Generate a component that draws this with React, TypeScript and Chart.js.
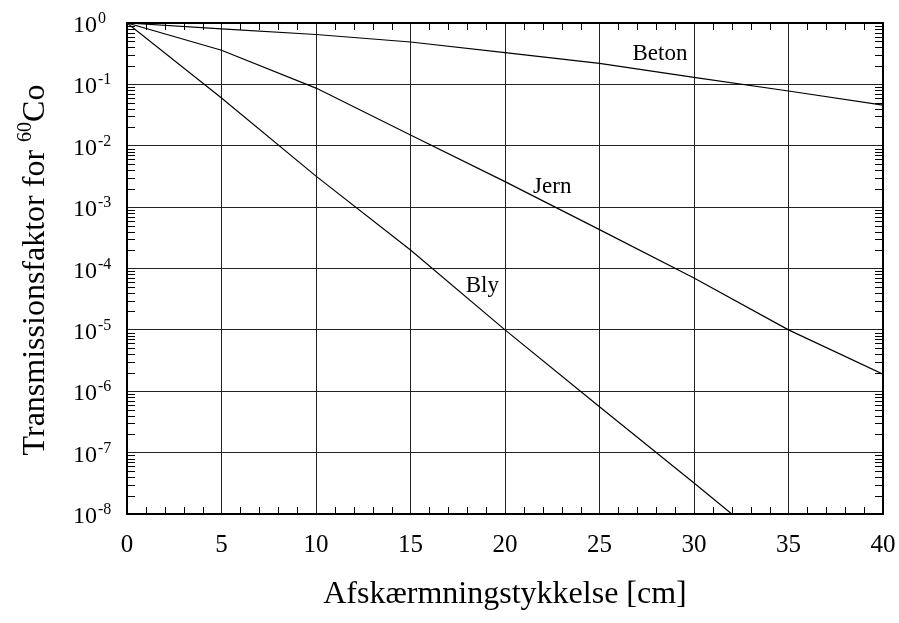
import React, { useEffect, useRef } from 'react';
import { Chart, registerables } from 'chart.js';

Chart.register(...registerables);

// ---- data ----
const thickness = [0, 5, 10, 15, 20, 25, 30, 35, 40];
const beton = [1, 0.8, 0.65, 0.49, 0.33, 0.22, 0.13, 0.078, 0.046];
const jern = [1, 0.36, 0.087, 0.015, 0.0026, 4.3e-4, 7.0e-5, 1.0e-5, 1.9e-6];
const blyThickness = [0, 5, 10, 15, 20, 25, 30, 32];
const bly = [1, 0.06, 3.2e-3, 2.0e-4, 1.0e-5, 5.6e-7, 3.2e-8, 1.0e-8];

const xTickValues = [0, 5, 10, 15, 20, 25, 30, 35, 40];
const yExponents = [0, -1, -2, -3, -4, -5, -6, -7, -8];

const seriesNames = ['Beton', 'Jern', 'Bly'];
// label anchors in data coordinates [x, y]
const labelAnchors: [number, number][] = [
  [28.2, 0.31],
  [22.5, 2.1e-3],
  [18.8, 5.2e-5],
];

const xTitle = 'Afskærmningstykkelse [cm]';
const yTitleMain = 'Transmissionsfaktor for ';
const yTitleSup = '60';
const yTitleEnd = 'Co';

const SERIF = '"Liberation Serif", "Times New Roman", serif';

const decorPlugin = {
  id: 'decor',
  afterDraw(chart: any) {
    const { ctx, chartArea } = chart;
    const xs = chart.scales.x;
    const ys = chart.scales.y;
    const { left, right, top, bottom } = chartArea;
    ctx.save();
    ctx.strokeStyle = '#000';
    ctx.fillStyle = '#000';

    // minor ticks x
    ctx.lineWidth = 1;
    ctx.beginPath();
    for (let v = 1; v < 40; v++) {
      if (v % 5 === 0) continue;
      const px = Math.round(xs.getPixelForValue(v)) + 0.5;
      ctx.moveTo(px, bottom);
      ctx.lineTo(px, bottom - 7);
      ctx.moveTo(px, top);
      ctx.lineTo(px, top + 7);
    }
    // minor ticks y
    for (let k = -8; k < 0; k++) {
      for (let m = 2; m <= 9; m++) {
        const v = m * Math.pow(10, k);
        const py = Math.round(ys.getPixelForValue(v)) + 0.5;
        ctx.moveTo(left, py);
        ctx.lineTo(left + 8, py);
        ctx.moveTo(right, py);
        ctx.lineTo(right - 8, py);
      }
    }
    ctx.stroke();

    // frame
    ctx.lineWidth = 2;
    ctx.strokeRect(left, top, right - left, bottom - top);

    // x tick labels
    ctx.font = '25px ' + SERIF;
    ctx.textAlign = 'center';
    ctx.textBaseline = 'alphabetic';
    for (const v of xTickValues) {
      ctx.fillText(String(v), xs.getPixelForValue(v), bottom + 38);
    }

    // y tick labels
    ctx.textAlign = 'left';
    for (const e of yExponents) {
      const py = ys.getPixelForValue(Math.pow(10, e));
      ctx.font = '24px ' + SERIF;
      ctx.fillText('10', 73, py + 9);
      const w = ctx.measureText('10').width;
      ctx.font = '16px ' + SERIF;
      ctx.fillText(String(e), 73 + w + 1, py);
    }

    // series labels
    ctx.font = '23px ' + SERIF;
    ctx.textAlign = 'center';
    ctx.textBaseline = 'middle';
    seriesNames.forEach((n, i) => {
      const [ax, ay] = labelAnchors[i];
      ctx.fillText(n, xs.getPixelForValue(ax), ys.getPixelForValue(ay));
    });

    // x title
    ctx.font = '32px ' + SERIF;
    ctx.textAlign = 'center';
    ctx.textBaseline = 'alphabetic';
    ctx.fillText(xTitle, 505, 603);

    // y title (rotated)
    ctx.save();
    ctx.translate(44, 270);
    ctx.rotate(-Math.PI / 2);
    ctx.textAlign = 'left';
    ctx.textBaseline = 'alphabetic';
    ctx.font = '32px ' + SERIF;
    const w1 = ctx.measureText(yTitleMain).width;
    const w3 = ctx.measureText(yTitleEnd).width;
    ctx.font = '20px ' + SERIF;
    const w2 = ctx.measureText(yTitleSup).width;
    const total = w1 + w2 + w3;
    const x0 = -total / 2;
    ctx.font = '32px ' + SERIF;
    ctx.fillText(yTitleMain, x0, 0);
    ctx.font = '20px ' + SERIF;
    ctx.fillText(yTitleSup, x0 + w1, -13);
    ctx.font = '32px ' + SERIF;
    ctx.fillText(yTitleEnd, x0 + w1 + w2, 0);
    ctx.restore();

    ctx.restore();
  },
};

export default function App() {
  const canvasRef = useRef<HTMLCanvasElement | null>(null);

  useEffect(() => {
    const canvas = canvasRef.current;
    if (!canvas) return;
    const lineStyle = {
      borderColor: '#000',
      borderWidth: 1.2,
      pointRadius: 0,
      fill: false,
      tension: 0,
    };
    const chart = new Chart(canvas, {
      type: 'line',
      data: {
        datasets: [
          { label: seriesNames[0], data: thickness.map((x, i) => ({ x, y: beton[i] })), ...lineStyle },
          { label: seriesNames[1], data: thickness.map((x, i) => ({ x, y: jern[i] })), ...lineStyle },
          { label: seriesNames[2], data: blyThickness.map((x, i) => ({ x, y: bly[i] })), ...lineStyle },
        ],
      },
      options: {
        responsive: false,
        animation: false,
        devicePixelRatio: 1,
        layout: { padding: { left: 127, top: 23, right: 16, bottom: 109 } },
        plugins: { legend: { display: false }, tooltip: { enabled: false } },
        scales: {
          x: {
            type: 'linear',
            min: 0,
            max: 40,
            ticks: { display: false, stepSize: 5 },
            afterBuildTicks: (scale: any) => {
              scale.ticks = xTickValues.map((v) => ({ value: v }));
            },
            grid: { color: '#222', lineWidth: 1, drawTicks: false },
            border: { display: false },
          },
          y: {
            type: 'logarithmic',
            min: 1e-8,
            max: 1,
            ticks: { display: false },
            afterBuildTicks: (scale: any) => {
              scale.ticks = yExponents.map((e) => ({ value: Math.pow(10, e) }));
            },
            grid: { color: '#222', lineWidth: 1, drawTicks: false },
            border: { display: false },
          },
        },
      },
      plugins: [decorPlugin],
    } as any);
    return () => chart.destroy();
  }, []);

  return (
    <div style={{ position: 'fixed', left: 0, top: 0, width: 899, height: 623, background: '#fff' }}>
      <canvas ref={canvasRef} width={899} height={623} style={{ width: 899, height: 623, display: 'block' }} />
    </div>
  );
}
